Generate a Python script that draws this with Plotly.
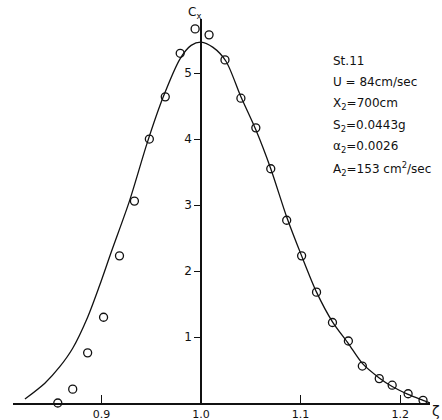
import plotly.graph_objects as go

# Measured concentration profile (open circles)
zeta_obs = [0.856, 0.871, 0.886, 0.902, 0.918, 0.933, 0.948, 0.964, 0.979, 0.994,
            1.008, 1.024, 1.040, 1.055, 1.070, 1.086, 1.101, 1.116, 1.132, 1.148,
            1.162, 1.179, 1.192, 1.208, 1.223]
c_obs = [0.00, 0.21, 0.76, 1.30, 2.23, 3.06, 4.00, 4.64, 5.30, 5.67,
         5.58, 5.20, 4.62, 4.17, 3.55, 2.77, 2.23, 1.68, 1.22, 0.94,
         0.56, 0.37, 0.27, 0.14, 0.04]

# Computed curve (solid line)
zeta_fit = [0.823, 0.843, 0.858, 0.871, 0.886, 0.898, 0.910, 0.928, 0.946, 0.962,
            0.979, 0.990, 1.000, 1.012, 1.025, 1.040, 1.055, 1.070, 1.086, 1.101,
            1.116, 1.132, 1.148, 1.162, 1.179, 1.192, 1.208, 1.223, 1.230]
c_fit = [0.06, 0.30, 0.55, 0.83, 1.30, 1.78, 2.30, 3.06, 3.95, 4.64,
         5.22, 5.42, 5.47, 5.39, 5.18, 4.64, 4.14, 3.55, 2.82, 2.23,
         1.68, 1.23, 0.90, 0.60, 0.38, 0.25, 0.13, 0.04, 0.00]

x_ticks = [0.9, 1.0, 1.1, 1.2]
x_tick_text = ["0.9", "1.0", "1.1", "1.2"]
y_ticks = [1, 2, 3, 4, 5]
y_tick_text = ["1", "2", "3", "4", "5"]

legend_lines = [
    "St.11",
    "U = 84cm/sec",
    "X<sub>2</sub>=700cm",
    "S<sub>2</sub>=0.0443g",
    "α<sub>2</sub>=0.0026",
    "A<sub>2</sub>=153 cm<sup>2</sup>/sec",
]

X_RANGE = [0.811, 1.230]
Y_RANGE = [0, 5.82]
FONT = "DejaVu Sans"
INK = "#111111"

fig = go.Figure()
fig.add_trace(go.Scatter(
    x=zeta_fit, y=c_fit, mode="lines",
    line=dict(color=INK, width=1.3, shape="spline", smoothing=0.8),
    hoverinfo="skip", showlegend=False,
))
fig.add_trace(go.Scatter(
    x=zeta_obs, y=c_obs, mode="markers",
    marker=dict(symbol="circle-open", size=8, color=INK, line=dict(width=1.3, color=INK)),
    cliponaxis=False, showlegend=False,
))

annotations = []
y0 = 0.891
for i, txt in enumerate(legend_lines):
    annotations.append(dict(
        text=txt, xref="paper", yref="paper", x=0.763, y=y0 - i * 0.0563,
        xanchor="left", yanchor="middle", showarrow=False,
        font=dict(family=FONT, size=12, color=INK),
    ))
annotations.append(dict(
    text="C<sub>x</sub>", xref="x", yref="paper", x=0.993, y=1.0,
    xanchor="center", yanchor="bottom", yshift=-4, showarrow=False,
    font=dict(family=FONT, size=12, color=INK),
))
annotations.append(dict(
    text="ζ", xref="paper", yref="paper", x=1.0, y=0.0,
    xanchor="left", yanchor="top", yshift=2, showarrow=False,
    font=dict(family=FONT, size=14, color=INK),
))

fig.update_layout(
    width=442, height=420,
    margin=dict(l=13, r=12, t=19, b=17),
    paper_bgcolor="white", plot_bgcolor="white",
    font=dict(family=FONT, size=11, color=INK),
    annotations=annotations,
    xaxis=dict(
        range=X_RANGE, showgrid=False, zeroline=False, automargin=False,
        showline=True, linecolor=INK, linewidth=1.5,
        ticks="inside", ticklen=8, tickwidth=1.2, tickcolor=INK,
        tickvals=x_ticks, ticktext=x_tick_text,
        tickfont=dict(family=FONT, size=11, color=INK),
    ),
    yaxis=dict(
        range=Y_RANGE, showgrid=False, zeroline=False, automargin=False,
        anchor="free", position=(1.0 - X_RANGE[0]) / (X_RANGE[1] - X_RANGE[0]),
        showline=True, linecolor=INK, linewidth=1.5,
        ticks="outside", ticklen=6, tickwidth=1.2, tickcolor=INK,
        tickvals=y_ticks, ticktext=y_tick_text,
        tickfont=dict(family=FONT, size=12, color=INK),
    ),
)

fig.write_html("out.html")
